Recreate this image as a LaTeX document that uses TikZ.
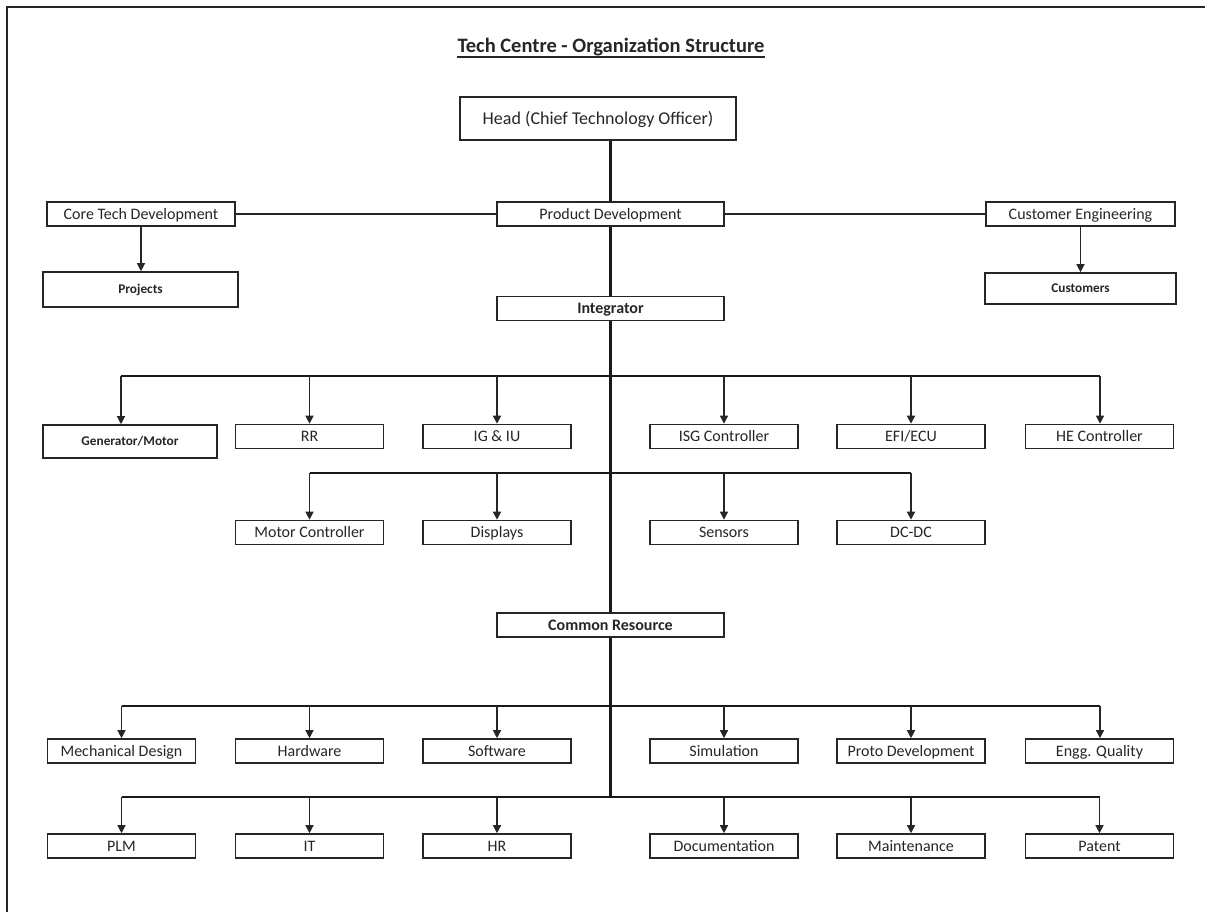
\documentclass[tikz,border=0pt]{standalone}
\usepackage{fontspec}
\setmainfont{Carlito}
\usetikzlibrary{arrows.meta}
\begin{document}
\begin{tikzpicture}[x=1pt,y=-1pt,
  box/.style={draw=black!85, line width=1.6pt, fill=white, inner sep=0pt,
    minimum height=24pt, minimum width=148pt, text=black!85,
    text height=10.4pt, text depth=0pt,
    font=\fontsize{16}{18}\selectfont},
  smallbox/.style={box, text height=8.6pt, text depth=0pt, font=\fontsize{13.3}{15}\selectfont\bfseries},
  boldbox/.style={box, font=\fontsize{16}{18}\selectfont\bfseries},
  link/.style={draw=black!85, line width=1.6pt},
  bus/.style={draw=black!90, line width=2.6pt},
  arr/.style={draw=black!85, line width=1.3pt, -{Triangle[width=8pt,length=8pt]}},
  frame/.style={draw=black!85, line width=2.6pt}
]
\useasboundingbox (0,0) rectangle (1205,912);
% outer frame (top and left edges)
\coordinate (f0) at (7,7);
\coordinate (f1) at (1205,7);
\coordinate (f2) at (7,912);
\draw[frame] (f2) -- (f0) -- (f1);

% title
\node[anchor=base, inner sep=0pt, text=black!85, font=\fontsize{20.5}{24}\selectfont\bfseries] (title) at (611,53) {Tech Centre - Organization Structure};
\draw[black!85, line width=1.2pt] ([yshift=-4pt]title.base west) -- ([yshift=-4pt]title.base east);

% top level
\node[box, minimum width=276pt, minimum height=43pt, text height=11.6pt, text depth=0pt, font=\fontsize{18}{20}\selectfont] (head) at (598,118.5) {Head (Chief Technology Officer)};
\node[box, minimum width=188pt] (core) at (141,214) {Core Tech Development};
\node[box, minimum width=227pt] (prod) at (610.5,214) {Product Development};
\node[box, minimum width=189pt] (cust) at (1080.5,214) {Customer Engineering};
\node[smallbox, minimum width=195pt, minimum height=35pt] (proj) at (140.5,289.5) {Projects};
\node[smallbox, minimum width=191pt, minimum height=31pt] (custs) at (1080.5,288.5) {Customers};
\node[boldbox, minimum width=227pt] (integ) at (610.5,308.5) {Integrator};

\draw[bus] (prod.north) -- (prod.north |- head.south);
\draw[link] (core.east) -- (prod.west);
\draw[link] (prod.east) -- (cust.west);
\draw[arr] (core.south) -- (core.south |- proj.north);
\draw[arr] (cust.south) -- (cust.south |- custs.north);

% row 1
\node[smallbox, minimum width=174pt, minimum height=33pt] (gen) at (130,441.5) {Generator/Motor};
\node[box] (rr) at (309.5,436.5) {RR};
\node[box] (igiu) at (497,436.5) {IG \& IU};
\node[box] (isg) at (724,436.5) {ISG Controller};
\node[box] (efi) at (911,436.5) {EFI/ECU};
\node[box] (he) at (1099.5,436.5) {HE Controller};

% row 2
\node[box] (motc) at (309.5,532.5) {Motor Controller};
\node[box] (disp) at (497,532.5) {Displays};
\node[box] (sens) at (724,532.5) {Sensors};
\node[box] (dcdc) at (911,532.5) {DC-DC};

% common resource
\node[boldbox, minimum width=227pt] (cr) at (610.5,625) {Common Resource};

% row 3
\node[box] (mech) at (121.5,751) {Mechanical Design};
\node[box] (hw) at (309.5,751) {Hardware};
\node[box] (sw) at (497,751) {Software};
\node[box] (sim) at (724,751) {Simulation};
\node[box] (proto) at (911,751) {Proto Development};
\node[box] (engg) at (1099.5,751) {Engg. Quality};

% row 4
\node[box] (plm) at (121.5,846) {PLM};
\node[box] (it) at (309.5,846) {IT};
\node[box] (hr) at (497,846) {HR};
\node[box] (doc) at (724,846) {Documentation};
\node[box] (maint) at (911,846) {Maintenance};
\node[box] (pat) at (1099.5,846) {Patent};

% trunk
\coordinate (tend) at (610.5,797);
\draw[bus] (prod.south) -- (integ.north);
\draw[bus] (integ.south) -- (cr.north);
\draw[bus] (cr.south) -- (tend);

% bus 1
\coordinate (a1) at (121,376);
\coordinate (a2) at (309.5,376);
\coordinate (a3) at (497,376);
\coordinate (a4) at (724,376);
\coordinate (a5) at (911,376);
\coordinate (a6) at (1100,376);
\draw[bus] (a1) -- (a6);
\draw[arr] (a1) -- (a1 |- gen.north);
\draw[arr] (a2) -- (rr.north);
\draw[arr] (a3) -- (igiu.north);
\draw[arr] (a4) -- (isg.north);
\draw[arr] (a5) -- (efi.north);
\draw[arr] (a6) -- (a6 |- he.north);

% bus 2
\coordinate (b1) at (309.5,473);
\coordinate (b2) at (497,473);
\coordinate (b3) at (724,473);
\coordinate (b4) at (911,473);
\draw[bus] (b1) -- (b4);
\draw[arr] (b1) -- (motc.north);
\draw[arr] (b2) -- (disp.north);
\draw[arr] (b3) -- (sens.north);
\draw[arr] (b4) -- (dcdc.north);

% bus 3
\coordinate (c1) at (121.5,706);
\coordinate (c2) at (309.5,706);
\coordinate (c3) at (497,706);
\coordinate (c4) at (724,706);
\coordinate (c5) at (911,706);
\coordinate (c6) at (1100,706);
\draw[bus] (c1) -- (c6);
\draw[arr] (c1) -- (mech.north);
\draw[arr] (c2) -- (hw.north);
\draw[arr] (c3) -- (sw.north);
\draw[arr] (c4) -- (sim.north);
\draw[arr] (c5) -- (proto.north);
\draw[arr] (c6) -- (c6 |- engg.north);

% bus 4
\coordinate (d1) at (121.5,797);
\coordinate (d2) at (309.5,797);
\coordinate (d3) at (497,797);
\coordinate (d4) at (724,797);
\coordinate (d5) at (911,797);
\coordinate (d6) at (1099.5,797);
\draw[bus] (d1) -- (d6);
\draw[arr] (d1) -- (plm.north);
\draw[arr] (d2) -- (it.north);
\draw[arr] (d3) -- (hr.north);
\draw[arr] (d4) -- (doc.north);
\draw[arr] (d5) -- (maint.north);
\draw[arr] (d6) -- (pat.north);
\end{tikzpicture}
\end{document}
